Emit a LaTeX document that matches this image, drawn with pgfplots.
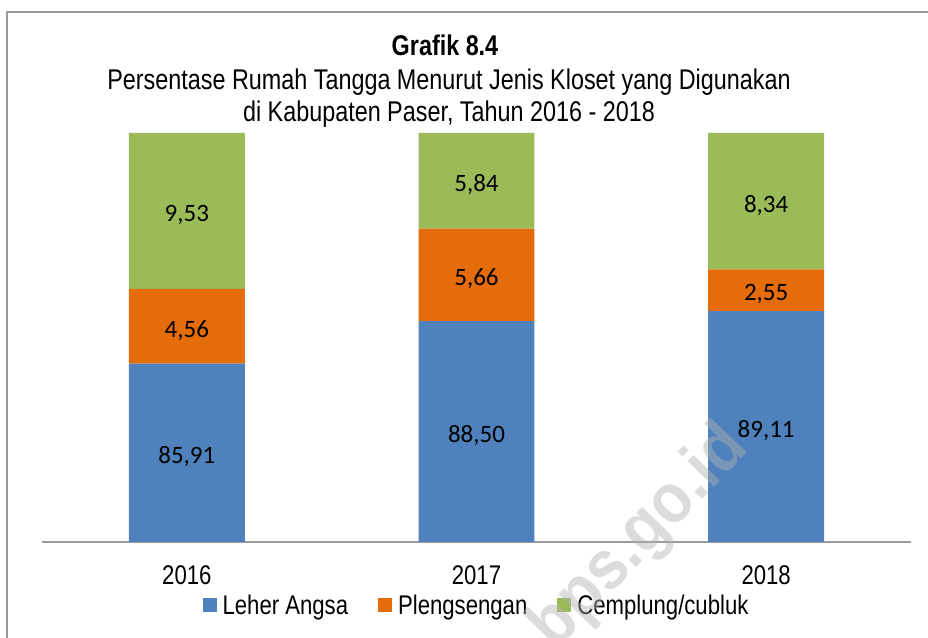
\documentclass[border=0pt]{standalone}
\usepackage{pgfplots}
\pgfplotsset{compat=1.18}
\usepackage{pgfplotstable}
\usepackage{fontspec}
\setmainfont{Liberation Sans}[FakeStretch=0.82]
\newfontfamily\calibri{Carlito}
\newfontfamily\wmfont{Liberation Sans}[FakeStretch=0.9]
\definecolor{blueC}{HTML}{4F81BD}
\definecolor{orangeC}{HTML}{E46C0A}
\definecolor{greenC}{HTML}{9BBB59}
\definecolor{frameC}{HTML}{9A9A9A}
\pgfplotstableread{
x a b c
0 85.91 4.56 9.53
1 88.50 5.66 5.84
2 89.11 2.55 8.34
}\data
% label positions (middle of the visible part of each segment) and values
\pgfplotstableread{
x pos val
0 80.455 85.91
1 81.750 88.50
2 82.055 89.11
0 88.190 4.56
1 91.330 5.66
2 90.385 2.55
0 95.235 9.53
1 97.080 5.84
2 95.830 8.34
}\labels
\pgfplotsset{common/.style={
  at={(42bp,96bp)}, anchor=south west,
  scale only axis, width=869bp, height=409bp,
  xmin=-0.5, xmax=2.5, ymin=75, ymax=100}}
\begin{document}
\begin{tikzpicture}
\path[use as bounding box] (0bp,0bp) rectangle (928bp,638bp);
\begin{scope}[x=1bp,y=1bp]
\draw[frameC, line width=1.5bp] (7,0) -- (7,626) -- (928,626);
\node[anchor=base, font=\fontsize{28.5bp}{32bp}\selectfont\bfseries] at (445,638-56) {Grafik 8.4};
\node[anchor=base, font=\fontsize{28.5bp}{32bp}\selectfont] at (449,638-90) {Persentase Rumah Tangga Menurut Jenis Kloset yang Digunakan};
\node[anchor=base, font=\fontsize{28.5bp}{32bp}\selectfont] at (449,638-122) {di Kabupaten Paser, Tahun 2016 - 2018};
\end{scope}
\begin{axis}[common,
  ybar stacked, bar width=0.4,
  axis y line=none, axis x line*=bottom,
  x axis line style={draw=frameC, line width=1.5bp, -},
  xtick={0,1,2}, xticklabels={2016,2017,2018},
  major tick length=0pt,
  xticklabel style={anchor=center, yshift=-33bp, font=\fontsize{27bp}{31bp}\selectfont},
  legend columns=3,
  legend style={at={(0.5,-0.154)}, anchor=center, draw=none, fill=none,
    font=\fontsize{27bp}{31bp}\selectfont,
    /tikz/every even column/.append style={column sep=28bp}},
]
\addplot[fill=blueC, draw=none,
  legend image code/.code={\fill[blueC] (0bp,-7bp) rectangle (14bp,7bp); \path (0bp,0bp) -- (18bp,0bp);}]
  table[x=x, y=a] {\data};
\addlegendentry{Leher Angsa}
\addplot[fill=orangeC, draw=none,
  legend image code/.code={\fill[orangeC] (0bp,-7bp) rectangle (14bp,7bp); \path (0bp,0bp) -- (18bp,0bp);}]
  table[x=x, y=b] {\data};
\addlegendentry{Plengsengan}
\addplot[fill=greenC, draw=none,
  legend image code/.code={\fill[greenC] (0bp,-7bp) rectangle (14bp,7bp); \path (0bp,0bp) -- (18bp,0bp);}]
  table[x=x, y=c] {\data};
\addlegendentry{Cemplung/cubluk}
\end{axis}
\begin{axis}[common, hide axis]
\addplot[draw=none, mark=none, point meta=explicit,
  nodes near coords={\pgfmathprintnumber[assume math mode=true,fixed,fixed zerofill,precision=2,use comma]{\pgfplotspointmeta}},
  every node near coord/.append style={anchor=center, yshift=-4bp, font=\calibri\fontsize{25bp}{30bp}\selectfont, text=black}]
  table[x=x, y=pos, meta=val] {\labels};
\end{axis}
\begin{scope}[x=1bp,y=1bp]
\node[rotate=46, text=gray!60, opacity=0.45, font=\wmfont\fontsize{70bp}{70bp}\selectfont\bfseries]
  at (640,638-538) {bps.go.id};
\end{scope}
\end{tikzpicture}
\end{document}
